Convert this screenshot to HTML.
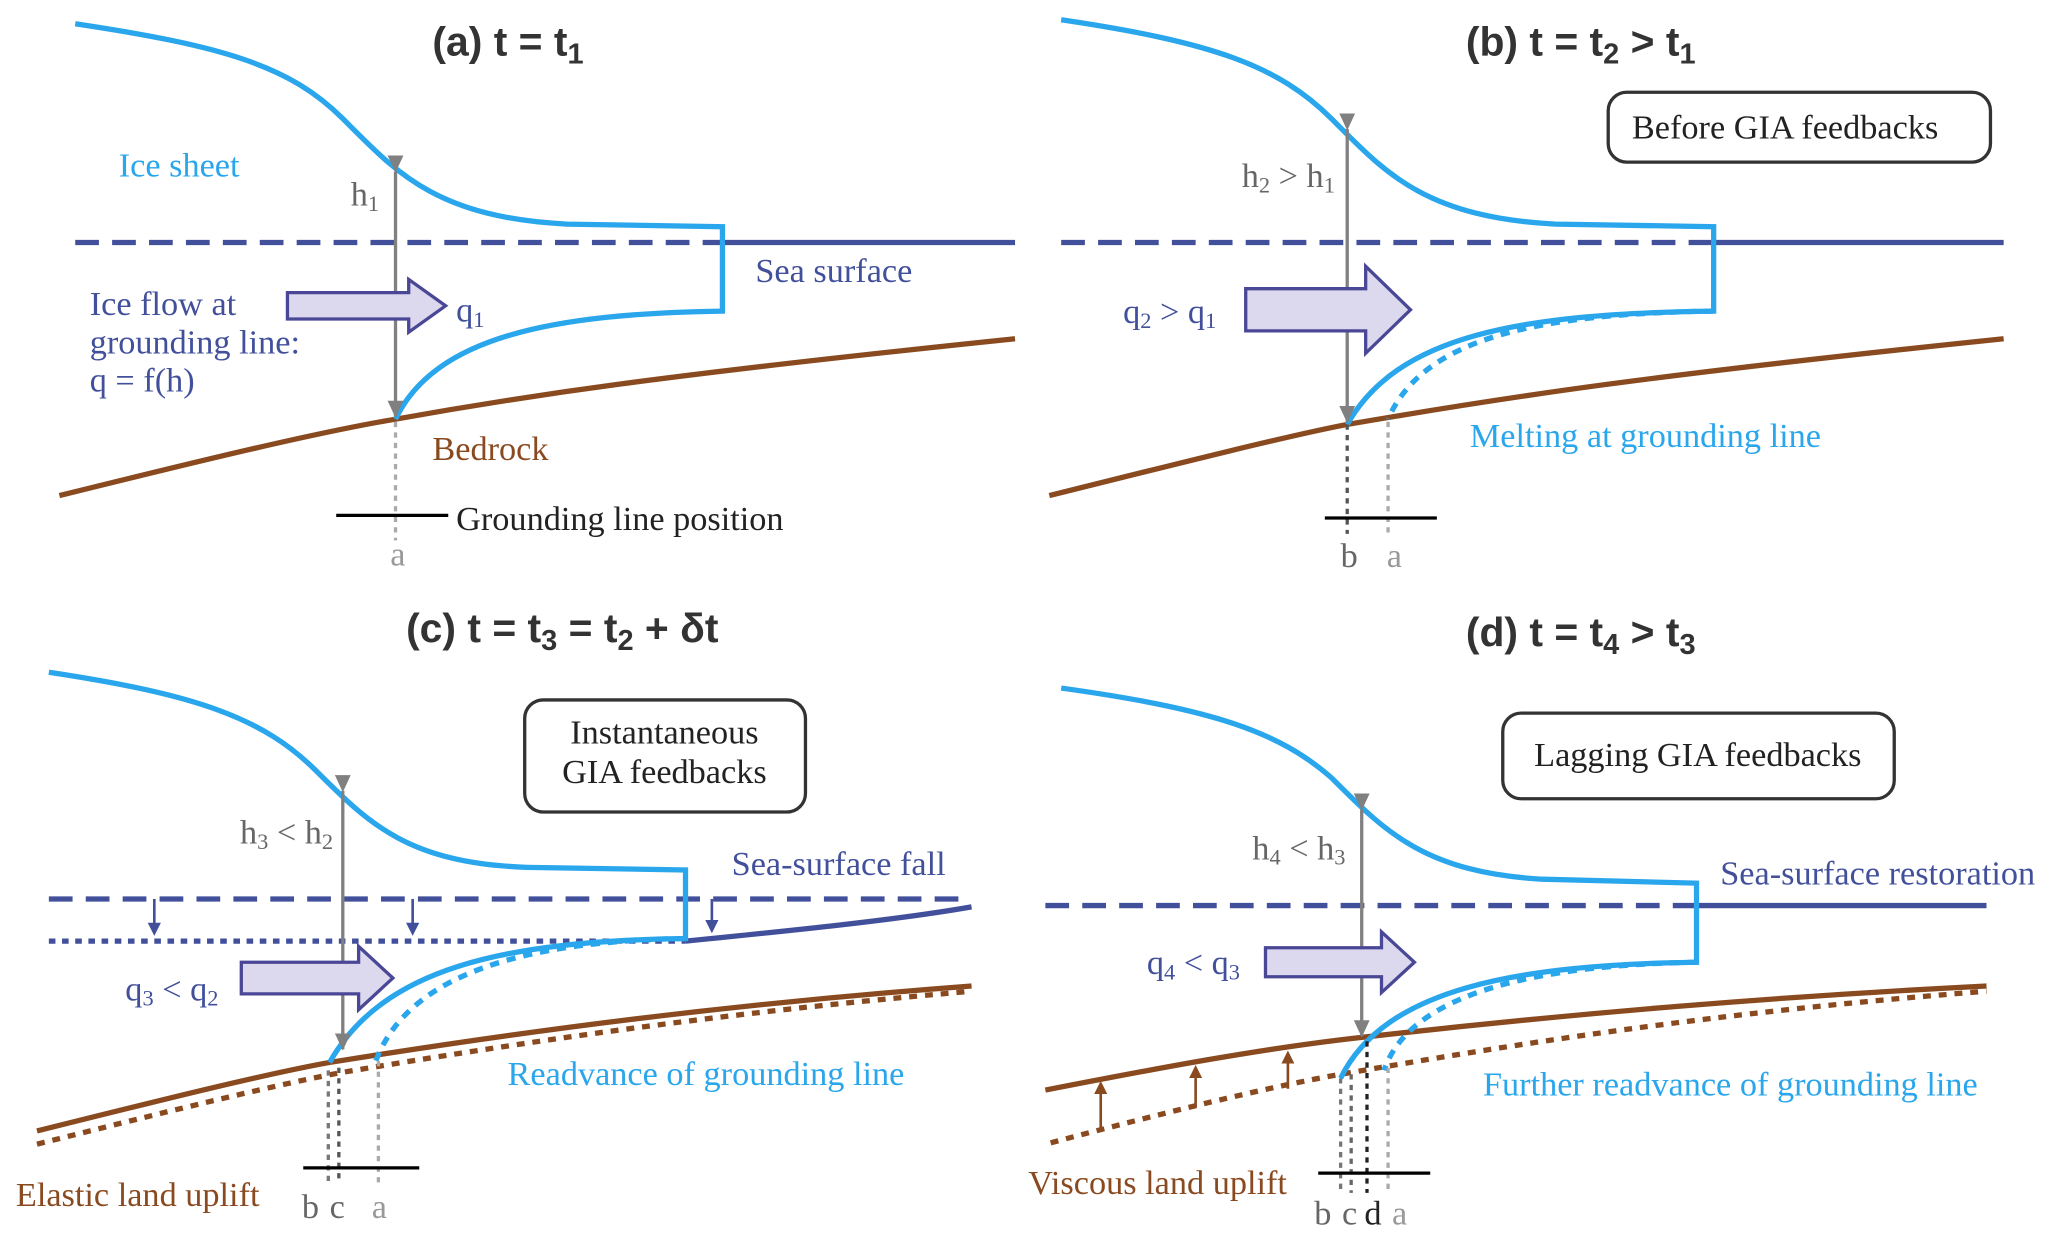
<!DOCTYPE html>
<html><head><meta charset="utf-8"><style>
html,body{margin:0;padding:0;background:#fff;}
svg{display:block;}
.ice{fill:none;stroke:#29a6ec;stroke-width:4;}
.iced{fill:none;stroke:#29a6ec;stroke-width:4;stroke-dasharray:7,6;}
.sea{stroke:#42509c;stroke-width:4;fill:none;}
.sead{stroke:#42509c;stroke-width:4;fill:none;stroke-dasharray:18,10;}
.seadot{stroke:#42509c;stroke-width:4;fill:none;stroke-dasharray:5,5;}
.bed{stroke:#8a4a20;stroke-width:4;fill:none;}
.bedd{stroke:#8a4a20;stroke-width:4;fill:none;stroke-dasharray:6,6;}
.gr{stroke:#808080;stroke-width:2.5;fill:none;}
.vd{stroke-width:2.5;fill:none;stroke-dasharray:4,4;}
.blk{stroke:#000;stroke-width:2.5;}
.barr{fill:#dcd8ee;stroke:#4a4896;stroke-width:2.5;}
.box{fill:#fff;stroke:#333;stroke-width:2.5;}
text{font-family:"Liberation Serif",serif;font-size:26px;}
.t{font-family:"Liberation Sans",sans-serif;font-weight:bold;font-size:31px;fill:#333;}
.b{fill:#29a6ec}.n{fill:#42509c}.br{fill:#8a4a20}.g{fill:#999}.k{fill:#222}.gk{fill:#666}
</style></head><body>
<svg width="2067" height="1243" viewBox="0 0 1568 943" xmlns="http://www.w3.org/2000/svg">
<defs>
<marker id="ga" markerWidth="14" markerHeight="14" refX="12" refY="7" orient="auto" markerUnits="userSpaceOnUse"><path d="M0,1 L13,7 L0,13 z" fill="#808080"/></marker>
<marker id="na" markerWidth="10" markerHeight="10" refX="8" refY="5" orient="auto" markerUnits="userSpaceOnUse"><path d="M0,0 L10,5 L0,10 z" fill="#42509c"/></marker>
<marker id="ba" markerWidth="10" markerHeight="10" refX="8" refY="5" orient="auto" markerUnits="userSpaceOnUse"><path d="M0,0 L10,5 L0,10 z" fill="#8a4a20"/></marker>
</defs>

<!-- (a) -->
<text class="t" x="328" y="42">(a) t = t<tspan font-size="22" dy="6">1</tspan></text>
<path class="sead" d="M57,184 L548,184"/><path class="sea" d="M548,184 L770,184"/>
<path class="bed" d="M45,376 C150,350 240,328 300,318 C400,300 500,285 770,257"/>
<path class="ice" d="M57,18 C170,35 220,50 260,90 C300,130 330,165 430,170 L548,172 L548,236 C420,238 330,255 300,318"/>
<line class="gr" x1="300" y1="130" x2="300" y2="316" marker-start="url(#ga)" marker-end="url(#ga)"/>
<path class="barr" d="M218,222 L310,222 L310,212 L338,232 L310,252 L310,242 L218,242 z"/>
<line class="vd" stroke="#aaa" x1="300" y1="320" x2="300" y2="410"/>
<line class="blk" x1="255" y1="391" x2="340" y2="391"/>
<text class="b" x="90" y="134">Ice sheet</text>
<text class="gk" x="266" y="156">h<tspan font-size="17" dy="4">1</tspan></text>
<text class="n" x="68" y="239">Ice flow at</text>
<text class="n" x="68" y="268">grounding line:</text>
<text class="n" x="68" y="297">q = f(h)</text>
<text class="n" x="346" y="244">q<tspan font-size="17" dy="4">1</tspan></text>
<text class="n" x="573" y="214">Sea surface</text>
<text class="br" x="328" y="349">Bedrock</text>
<text class="k" x="346" y="402">Grounding line position</text>
<text class="g" x="296" y="429">a</text>

<!-- (b) -->
<text class="t" x="1112" y="42">(b) t = t<tspan font-size="22" dy="6">2</tspan><tspan dy="-6"> &gt; t</tspan><tspan font-size="22" dy="6">1</tspan></text>
<rect class="box" x="1220" y="70" width="290" height="53" rx="14"/>
<text class="k" x="1238" y="105">Before GIA feedbacks</text>
<path class="sead" d="M805,184 L1300,184"/><path class="sea" d="M1300,184 L1520,184"/>
<path class="bed" d="M796,376 C900,350 980,330 1022,322 C1150,300 1250,285 1520,257"/>
<path class="ice" d="M805,15 C920,32 970,50 1010,90 C1050,130 1080,165 1180,170 L1300,172 L1300,236 C1150,238 1060,255 1022,322"/>
<path class="iced" d="M1300,236 C1170,238 1080,255 1053,318"/>
<line class="gr" x1="1022" y1="98" x2="1022" y2="320" marker-start="url(#ga)" marker-end="url(#ga)"/>
<path class="barr" d="M945,219 L1036,219 L1036,202 L1070,235 L1036,268 L1036,251 L945,251 z"/>
<line class="vd" stroke="#555" x1="1022" y1="322" x2="1022" y2="405"/>
<line class="vd" stroke="#aaa" x1="1053" y1="320" x2="1053" y2="405"/>
<line class="blk" x1="1005" y1="393" x2="1090" y2="393"/>
<text class="gk" x="942" y="142">h<tspan font-size="17" dy="4">2</tspan><tspan dy="-4"> &gt; h</tspan><tspan font-size="17" dy="4">1</tspan></text>
<text class="n" x="852" y="245">q<tspan font-size="17" dy="4">2</tspan><tspan dy="-4"> &gt; q</tspan><tspan font-size="17" dy="4">1</tspan></text>
<text class="b" x="1115" y="339">Melting at grounding line</text>
<text class="gk" x="1017" y="430">b</text><text class="g" x="1052" y="430">a</text>

<!-- (c) -->
<text class="t" x="308" y="487">(c) t = t<tspan font-size="22" dy="6">3</tspan><tspan dy="-6"> = t</tspan><tspan font-size="22" dy="6">2</tspan><tspan dy="-6"> + δt</tspan></text>
<rect class="box" x="398" y="531" width="213" height="85" rx="14"/>
<text class="k" x="504" y="564" text-anchor="middle">Instantaneous</text>
<text class="k" x="504" y="594" text-anchor="middle">GIA feedbacks</text>
<path class="sead" d="M37,682 L737,682"/>
<path class="seadot" d="M37,714 L520,714"/>
<path class="sea" d="M520,714 C600,706 680,698 737,688"/>
<line class="sea" style="stroke-width:2" x1="117" y1="682" x2="117" y2="708" marker-end="url(#na)"/>
<line class="sea" style="stroke-width:2" x1="313" y1="682" x2="313" y2="708" marker-end="url(#na)"/>
<line class="sea" style="stroke-width:2" x1="540" y1="682" x2="540" y2="706" marker-end="url(#na)"/>
<path class="bedd" d="M28,868 C120,845 200,825 257,814 C400,790 550,768 737,752"/>
<path class="bed" d="M28,858 C120,835 200,815 250,806 C400,782 550,762 737,748"/>
<path class="ice" d="M37,510 C150,527 200,545 240,585 C280,625 310,655 400,658 L520,660 L520,712 C380,714 290,735 250,806"/>
<path class="iced" d="M520,712 C400,714 310,738 285,805"/>
<line class="gr" x1="260" y1="600" x2="260" y2="796" marker-start="url(#ga)" marker-end="url(#ga)"/>
<path class="barr" d="M183,730 L272,730 L272,718 L298,742 L272,766 L272,754 L183,754 z"/>
<line class="vd" stroke="#777" x1="249" y1="812" x2="249" y2="898"/>
<line class="vd" stroke="#555" x1="257" y1="810" x2="257" y2="898"/>
<line class="vd" stroke="#aaa" x1="287" y1="805" x2="287" y2="898"/>
<line class="blk" x1="230" y1="886" x2="318" y2="886"/>
<text class="gk" x="182" y="640">h<tspan font-size="17" dy="4">3</tspan><tspan dy="-4"> &lt; h</tspan><tspan font-size="17" dy="4">2</tspan></text>
<text class="n" x="95" y="759">q<tspan font-size="17" dy="4">3</tspan><tspan dy="-4"> &lt; q</tspan><tspan font-size="17" dy="4">2</tspan></text>
<text class="n" x="555" y="664">Sea-surface fall</text>
<text class="b" x="385" y="823">Readvance of grounding line</text>
<text class="br" x="12" y="915">Elastic land uplift</text>
<text class="gk" x="229" y="924">b</text><text class="gk" x="250" y="924">c</text><text class="g" x="282" y="924">a</text>

<!-- (d) -->
<text class="t" x="1112" y="490">(d) t = t<tspan font-size="22" dy="6">4</tspan><tspan dy="-6"> &gt; t</tspan><tspan font-size="22" dy="6">3</tspan></text>
<rect class="box" x="1140" y="541" width="297" height="65" rx="14"/>
<text class="k" x="1288" y="581" text-anchor="middle">Lagging GIA feedbacks</text>
<path class="sead" d="M793,687 L1287,687"/><path class="sea" d="M1287,687 L1507,687"/>
<path class="bedd" d="M797,867 C880,845 960,825 1017,815 C1150,792 1300,768 1507,752"/>
<path class="bed" d="M793,827 C880,810 960,795 1033,787 C1200,768 1350,756 1507,748"/>
<line class="bed" style="stroke-width:2" x1="835" y1="857" x2="835" y2="822" marker-end="url(#ba)"/>
<line class="bed" style="stroke-width:2" x1="907" y1="840" x2="907" y2="810" marker-end="url(#ba)"/>
<line class="bed" style="stroke-width:2" x1="977" y1="826" x2="977" y2="799" marker-end="url(#ba)"/>
<path class="ice" d="M805,522 C920,538 970,555 1010,590 C1050,630 1080,662 1170,667 L1287,670 L1287,730 C1150,732 1050,750 1017,818"/>
<path class="iced" d="M1287,730 C1170,732 1070,752 1050,812"/>
<line class="gr" x1="1033" y1="614" x2="1033" y2="786" marker-start="url(#ga)" marker-end="url(#ga)"/>
<path class="barr" d="M960,719 L1048,719 L1048,707 L1073,730 L1048,753 L1048,741 L960,741 z"/>
<line class="vd" stroke="#777" x1="1017" y1="818" x2="1017" y2="905"/>
<line class="vd" stroke="#666" x1="1025" y1="815" x2="1025" y2="905"/>
<line class="vd" stroke="#222" x1="1037" y1="790" x2="1037" y2="905"/>
<line class="vd" stroke="#aaa" x1="1053" y1="810" x2="1053" y2="905"/>
<line class="blk" x1="1000" y1="890" x2="1085" y2="890"/>
<text class="gk" x="950" y="652">h<tspan font-size="17" dy="4">4</tspan><tspan dy="-4"> &lt; h</tspan><tspan font-size="17" dy="4">3</tspan></text>
<text class="n" x="870" y="739">q<tspan font-size="17" dy="4">4</tspan><tspan dy="-4"> &lt; q</tspan><tspan font-size="17" dy="4">3</tspan></text>
<text class="n" x="1305" y="671">Sea-surface restoration</text>
<text class="b" x="1125" y="831">Further readvance of grounding line</text>
<text class="br" x="780" y="906">Viscous land uplift</text>
<text class="gk" x="997" y="929">b</text><text class="gk" x="1018" y="929">c</text><text class="k" x="1035" y="929">d</text><text class="g" x="1056" y="929">a</text>
</svg>
</body></html>
